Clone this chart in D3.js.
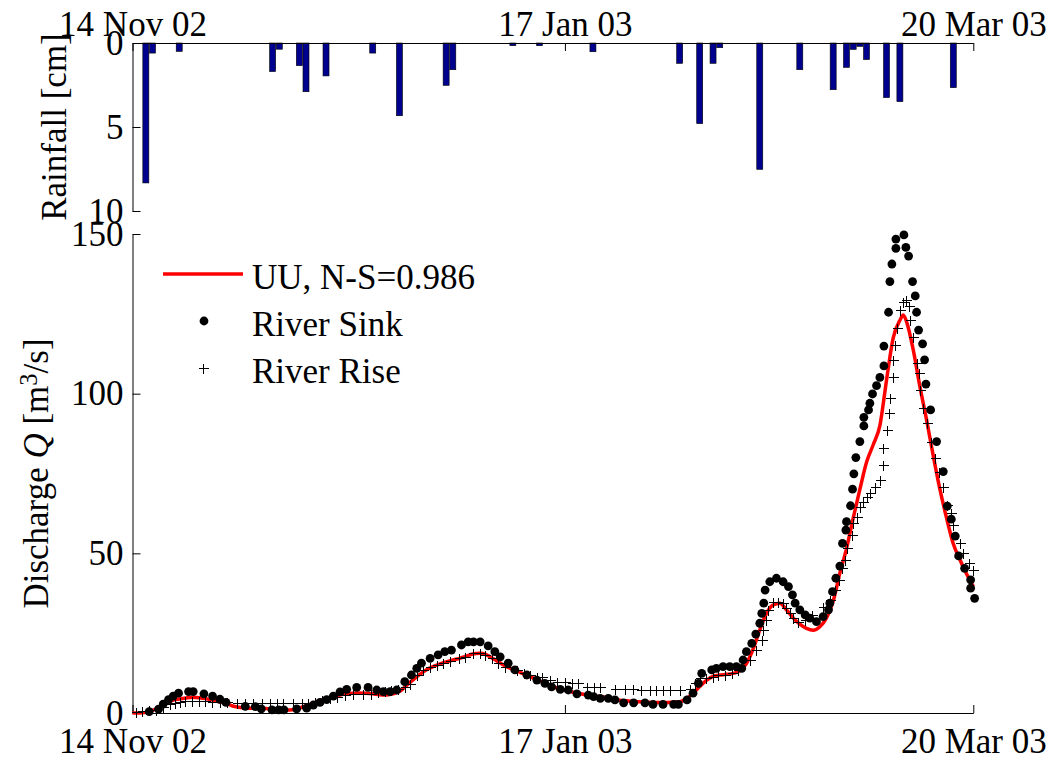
<!DOCTYPE html>
<html>
<head>
<meta charset="utf-8">
<script src="https://cdn.jsdelivr.net/npm/d3@7"></script>
<style>
  body { margin: 0; background: #fff; }
  svg text { font-family: "Liberation Serif", "Times New Roman", serif; fill: #000; }
</style>
</head>
<body>
<svg id="chart" width="1059" height="765"></svg>
<script>
// Shared time axis: days since 14 Nov 2002
const xTickDays = [0, 64.8, 126];
const xTickLabels = ["14 Nov 02", "17 Jan 03", "20 Mar 03"];

// Daily rainfall (cm)
const rainDays = [2, 3, 7, 21, 22, 25, 26, 29, 36, 40, 47, 48, 57, 61, 69, 82, 85, 87, 88, 94, 100, 105, 107, 108, 109, 110, 113, 115, 123];
const rainCm   = [8.33, 0.6, 0.5, 1.7, 0.37, 1.35, 2.9, 1.96, 0.6, 4.33, 2.52, 1.59, 0.16, 0.16, 0.52, 1.21, 4.8, 1.21, 0.28, 7.52, 1.59, 2.78, 1.45, 0.38, 0.2, 0.99, 3.25, 3.49, 2.66];
const rainTicks = [0, 5, 10];

// Modelled discharge (UU), m3/s
const modelDays = [0,1,2,3,4,5,6,7,8,9,10,11,12,13,14,15,16,17,18,19,20,21,22,23,24,25,26,27,28,29,30,31,32,33,34,35,36,37,38,39,40,41,42,43,44,45,46,47,48,49,50,51,52,53,54,55,56,57,58,59,60,61,62,63,64,65,66,67,68,69,70,71,72,73,74,75,76,77,78,79,80,81,82,83,84,85,86,87,88,89,90,91,92,93,94,95,96,97,98,99,100,101,102,103,104,105,106,107,108,109,110,111,112,113,114,115,115.5,116,117,118,119,120,121,122,123,124,125,126];
const modelQ = [0,0,0.2,0.8,1.8,3,4,4.4,4.7,4.9,4.8,4.5,4,3.5,3,2.2,1.8,1.5,1.5,1.5,1.4,1.2,1,0.9,1,1.5,2.3,3,3.8,4.5,5.1,5.6,6,6.2,6.3,6.2,6,5.7,5.6,6,6.7,8.5,10.3,12,13.5,14.5,15.3,16,16.6,17.1,17.8,18.5,18.7,18.3,17.1,15.8,14.6,13.7,12.8,11.9,11,10.1,9.2,8.3,7.6,7.1,6.5,6.1,5.7,5.4,5.1,4.8,4.3,4,3.8,3.6,3.5,3.4,3.3,3.3,3.3,3.4,3.5,4.5,6.2,8.3,10.2,11.5,11.9,12.1,12.4,13.2,15.5,20,26,31.2,33.8,34.4,32.3,29.8,27.8,26.5,25.9,27,29.8,35,43.8,51.5,61,70,78.5,84,90,104.3,117.5,123,124.6,122.5,113.7,102.2,91.8,80.5,70,61,53,48,43.5,39.6];

// Measured discharge at the River Sink, m3/s
const sinkDays = [2.5,3.9,4.6,5.4,6.1,6.9,8.4,9.1,10.7,12,13.1,14,16.9,18.4,19.3,20.9,21.9,22.7,24.6,26.1,27.1,28.1,29.1,30.1,31.1,32.1,33.6,35.3,36.6,37.6,38.6,39.6,40.8,41.8,42.6,43.3,44.6,45.8,46.8,47.8,49.3,50.3,51.1,52.1,53.3,54.3,55.1,56.3,57.3,59.1,60.6,61.8,62.8,64.1,65.3,66.6,68.3,69.1,70.1,71.3,72.3,73.6,75.1,76.8,78,79.5,81.1,81.8,83.1,84,84.8,85.3,86.8,87.5,88.5,89.5,90.5,91.3,91.5,92,92.8,93.4,94,94.3,94.6,94.8,95.5,96.5,97.5,98.3,98.9,99.3,100,100.8,101.5,102.5,103.5,104.3,104.5,104.9,105.4,106,106.4,106.9,107,107.6,107.9,108.1,108.4,109,109.6,109.6,110.3,110.5,110.9,111.5,112,112.6,112.6,113.3,113.5,113.8,114.4,114.4,115.6,115.9,116.3,116.9,117.3,117.5,117.8,118.4,118.7,118.9,119.6,120.5,121.5,122.1,122.7,123.3,123.8,124.7,125.6,125.6,126.2];
const sinkQ = [0.4,1.2,2.8,4.2,5.3,6.2,6.7,6.7,6,5.3,4.3,3.3,2.1,2,1.3,1,1,1,1.3,1.5,2.5,3.3,4.2,5.3,6.6,7.4,8,8,7.2,6.7,6.7,7.2,9.8,11.9,14,15.6,17.1,18.2,19.2,19.7,21.3,22.3,22.3,22.3,21,19.2,17.6,15.6,13.5,11.9,10.3,9.3,8.2,7.4,7.2,6,5.6,5.1,4.6,4.6,4.1,3.2,3.2,3.2,2.7,2.7,2.7,2.7,4.1,6.2,9.3,12.4,13.5,14,14.5,14.5,14.5,14,16.6,19.2,21.8,24.7,28.1,31.2,34.4,38.5,41.1,42.2,41.1,39.6,37,34.4,32.3,30.7,29.7,28.6,30.2,32.3,34.4,38,42.2,46,53.1,57.3,59.9,64.9,70.1,74.9,80,85,89.9,92.6,94.9,97,99.9,102.5,105.1,108.7,114.9,125.5,135.1,140.6,145.5,148.4,149.7,145.8,143.1,135.1,130.6,125.5,119.9,115.6,110.6,103,94.9,85,75.6,64.8,60.7,55.4,49.2,45.3,41.7,39.1,35.9];

// Measured discharge at the River Rise, m3/s
const riseDays = [0.5,1.4,2.5,3.5,4.5,5.6,6.4,7.1,7.9,8.9,9.9,10.9,11.9,13.1,14.1,15.6,16.9,18.1,19.4,20.6,21.6,22.6,24.1,25.4,26.3,27.3,28.4,29.6,30.6,31.8,33.1,34.6,35.8,36.8,37.8,38.8,39.8,40.8,41.6,42.6,43.6,44.6,45.6,46.6,47.6,48.9,49.9,51.1,52.1,52.8,53.8,54.8,55.8,57.6,58.6,59.6,60.6,61.3,62.6,63.6,64.8,65.8,66.8,68.1,69.1,70.1,72.3,73.8,75,76.2,77.5,78.5,79.5,80.6,82.1,83.6,84.3,85,86,87,87.8,88.8,89.8,90.8,92.5,93.5,94.3,94.5,95,95.3,96,96.8,97.5,98,98.5,99,99.8,100.8,101.8,103.5,104.5,105.3,105.8,106.3,106.8,107.1,107.8,108,108.6,109,109.5,110,110.5,111.3,112,112.5,112.5,113,113.3,113.5,113.9,114,114.3,114.6,115,115.4,115.9,116.3,116.5,117,117.5,117.8,118,118.5,119,119.6,120.3,120.8,121.5,122.1,122.6,123,124,124.5,125.3,125.9];
const riseQ = [0.2,0.5,0.8,1,2,2.8,3.2,3.5,3.8,3.8,3.8,3.8,3.6,3.5,3.4,3.2,3.1,3,3,3,3,3,3,3,3,3.5,4.1,4.6,5.1,5.6,6,6,6,6.5,7,7.2,7.5,8,9,11.9,13.5,14.5,15,15.6,16.4,17.1,17.6,18.7,18.7,18.2,17.1,15.6,14.5,13.5,12.4,11.9,11.4,11.4,10.3,9.8,9.8,9.3,9.3,8.2,8.2,8.2,7.4,7.5,7.5,7.3,7.3,7.3,7.3,7.3,7.3,7.6,9.3,10.9,10.9,11.4,11.9,11.9,12.4,13.5,16.6,19.7,22.9,26,29.1,32.3,34.9,34.9,34.4,32.8,31.2,29.7,28.6,29,30.7,33.3,35.4,38.5,41.7,45.3,47.9,51.6,55.7,59.4,61.5,64.6,66.2,67.7,68.8,70.9,73,77.7,82.9,88.6,93.9,98.6,105.3,110.6,115.3,120.5,126.2,128.8,129.3,127.5,123.1,117.9,109.5,106.4,101.2,95.4,90.7,85,79.8,75.6,70.9,65.1,62.5,58.9,53.1,50,46.9,44.8];
const qTicks = [0, 50, 100, 150];

const legendLabels = ["UU, N-S=0.986", "River Sink", "River Rise"];

const FONT = 35;
const svg = d3.select("#chart");

const x = d3.scaleLinear().domain([0, 126]).range([132.5, 973.3]);
const yRain = d3.scaleLinear().domain([0, 10]).range([43, 211]);
const yQ = d3.scaleLinear().domain([0, 150]).range([713, 234]);

function styleAxis(g) {
  g.attr("font-family", null).attr("font-size", null);
  g.selectAll("text").style("font-size", FONT + "px");
  g.selectAll("path, line").attr("stroke", "#000").attr("stroke-width", 1);
}

// ---------- Rainfall panel ----------
svg.append("g")
  .selectAll("rect")
  .data(rainDays.map((d, i) => ({ d, v: rainCm[i] })))
  .join("rect")
  .attr("x", r => x(r.d - 0.45))
  .attr("y", yRain(0))
  .attr("width", r => x(r.d + 0.45) - x(r.d - 0.45))
  .attr("height", r => yRain(r.v) - yRain(0))
  .attr("fill", "#00008f")
  .attr("stroke", "#000")
  .attr("stroke-width", 0.6);

svg.append("g")
  .attr("transform", `translate(0,${yRain(0)})`)
  .call(d3.axisTop(x).tickValues(xTickDays).tickFormat((d, i) => xTickLabels[i])
        .tickSizeInner(-8).tickSizeOuter(0).tickPadding(7))
  .call(styleAxis);

svg.append("g")
  .attr("transform", `translate(${x(0)},0)`)
  .call(d3.axisLeft(yRain).tickValues(rainTicks).tickFormat(d3.format("d"))
        .tickSizeInner(-8).tickSizeOuter(0).tickPadding(9))
  .call(styleAxis);

svg.append("text")
  .attr("transform", `translate(66,${(yRain(0) + yRain(10)) / 2}) rotate(-90)`)
  .attr("text-anchor", "middle")
  .style("font-size", FONT + "px")
  .text("Rainfall [cm]");

// ---------- Discharge panel ----------
svg.append("g")
  .attr("transform", `translate(0,${yQ(0)})`)
  .call(d3.axisBottom(x).tickValues(xTickDays).tickFormat((d, i) => xTickLabels[i])
        .tickSizeInner(-8).tickSizeOuter(0).tickPadding(15))
  .call(styleAxis);

svg.append("g")
  .attr("transform", `translate(${x(0)},0)`)
  .call(d3.axisLeft(yQ).tickValues(qTicks).tickFormat(d3.format("d"))
        .tickSizeInner(-8).tickSizeOuter(0).tickPadding(9))
  .call(styleAxis);

const qLabel = svg.append("text")
  .attr("transform", `translate(48,${(yQ(0) + yQ(150)) / 2}) rotate(-90)`)
  .attr("text-anchor", "middle")
  .style("font-size", FONT + "px");
qLabel.append("tspan").text("Discharge ");
qLabel.append("tspan").style("font-style", "italic").text("Q");
qLabel.append("tspan").text(" [m");
qLabel.append("tspan").attr("dy", "-0.45em").style("font-size", (FONT * 0.7) + "px").text("3");
qLabel.append("tspan").attr("dy", "0.32em").text("/s]");

// model line
const line = d3.line().x((d, i) => x(modelDays[i])).y(d => yQ(d)).curve(d3.curveMonotoneX);
svg.append("path")
  .datum(modelQ)
  .attr("d", line)
  .attr("fill", "none")
  .attr("stroke", "#ff0000")
  .attr("stroke-width", 3.5)
  .attr("stroke-linejoin", "round");

// River Sink dots
svg.append("g")
  .selectAll("circle")
  .data(sinkQ)
  .join("circle")
  .attr("cx", (d, i) => x(sinkDays[i]))
  .attr("cy", d => yQ(d))
  .attr("r", 4.4)
  .attr("fill", "#000");

// River Rise crosses
const cross = "M-5,0H5M0,-5V5";
svg.append("g")
  .attr("shape-rendering", "crispEdges")
  .selectAll("path")
  .data(riseQ)
  .join("path")
  .attr("transform", (d, i) => `translate(${Math.round(x(riseDays[i])) + 0.5},${Math.round(yQ(d)) + 0.5})`)
  .attr("d", cross)
  .attr("stroke", "#000")
  .attr("stroke-width", 1)
  .attr("fill", "none");

// ---------- Legend ----------
const legend = svg.append("g").attr("transform", "translate(163,274)");
const rowGap = 47;
legend.append("line").attr("x1", 0).attr("x2", 80).attr("y1", 0).attr("y2", 0)
  .attr("stroke", "#ff0000").attr("stroke-width", 3.5);
legend.append("circle").attr("cx", 41).attr("cy", rowGap).attr("r", 4.4).attr("fill", "#000");
legend.append("path").attr("d", cross).attr("transform", `translate(40.5,${rowGap * 2 + 0.5})`)
  .attr("shape-rendering", "crispEdges")
  .attr("stroke", "#000").attr("stroke-width", 1);
legend.selectAll("text.lbl")
  .data(legendLabels)
  .join("text")
  .attr("class", "lbl")
  .attr("x", 89)
  .attr("y", (d, i) => i * rowGap + 15)
  .style("font-size", FONT + "px")
  .text(d => d);
</script>
</body>
</html>
